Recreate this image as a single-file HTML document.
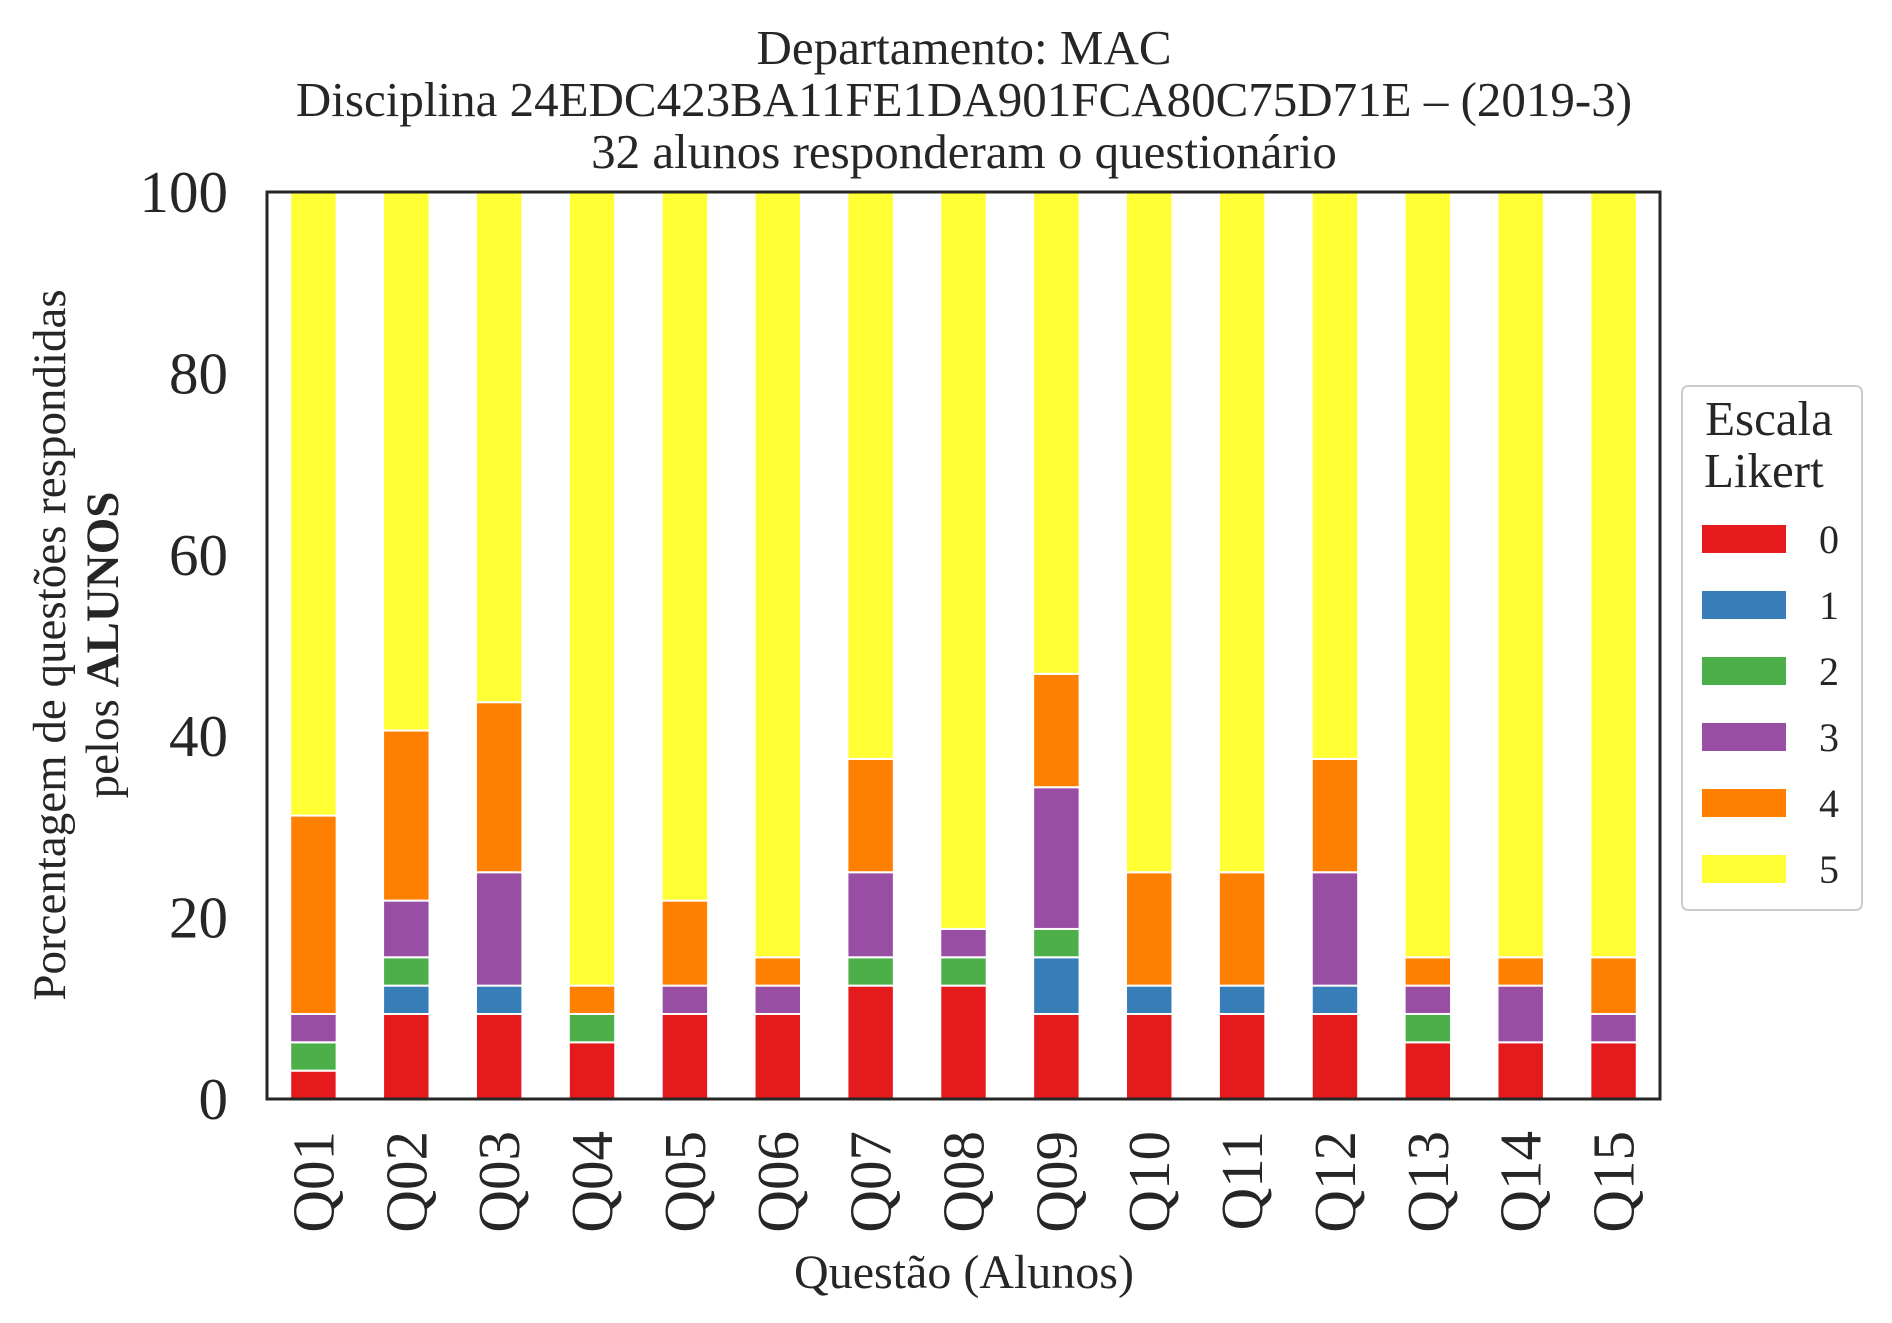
<!DOCTYPE html>
<html><head><meta charset="utf-8"><style>
html,body{margin:0;padding:0;background:#fff;}
svg{display:block;font-family:"Liberation Serif",serif;}
</style></head><body>
<svg id="chart" width="1892" height="1323" viewBox="0 0 1892 1323" xmlns="http://www.w3.org/2000/svg">
<rect width="1892" height="1323" fill="#fff"/>
<g font-size="49" text-anchor="middle" fill="#262626">
<text x="964" y="64">Departamento: MAC</text>
<text x="964" y="116">Disciplina 24EDC423BA11FE1DA901FCA80C75D71E – (2019-3)</text>
<text x="964" y="168">32 alunos responderam o questionário</text>
</g>
<g id="bars"></g>
<g id="yticks"></g>
<g id="xticks"></g>
<rect x="267" y="192" width="1393" height="907" fill="none" stroke="#262626" stroke-width="3"/>
<text transform="translate(65,645) rotate(-90)" font-size="47" text-anchor="middle" fill="#262626">Porcentagem de questões respondidas</text>
<text transform="translate(118,645) rotate(-90)" font-size="47" text-anchor="middle" fill="#262626">pelos <tspan font-weight="bold">ALUNOS</tspan></text>
<text x="964" y="1288" font-size="48" text-anchor="middle" fill="#262626">Questão (Alunos)</text>
<g id="legend">
<rect x="1682" y="386" width="180" height="524" rx="6" fill="#fff" stroke="#ccc" stroke-width="2"/>
<text x="1769" y="435" font-size="49" text-anchor="middle" fill="#262626">Escala</text>
<text x="1704" y="487" font-size="49" fill="#262626">Likert</text>
</g>
</svg>
<script>
const categories=["Q01","Q02","Q03","Q04","Q05","Q06","Q07","Q08","Q09","Q10","Q11","Q12","Q13","Q14","Q15"];
const levels=["0","1","2","3","4","5"];
const colors=["#e41a1c","#377eb8","#4daf4a","#984ea3","#ff7f00","#ffff33"];
// counts per level (out of 32 students)
const s0=[1,3,3,2,3,3,4,4,3,3,3,3,2,2,2];
const s1=[0,1,1,0,0,0,0,0,2,1,1,1,0,0,0];
const s2=[1,1,0,1,0,0,1,1,1,0,0,0,1,0,0];
const s3=[1,2,4,0,1,1,3,1,5,0,0,4,1,2,1];
const s4=[7,6,6,1,3,1,4,0,4,4,4,4,1,1,2];
const s5=[22,19,18,28,25,27,20,26,17,24,24,20,27,27,27];
const series=[s0,s1,s2,s3,s4,s5];
const yTicks=[0,20,40,60,80,100];
const NS="http://www.w3.org/2000/svg";
const L=267,R=1660,T=192,B=1099;
const step=(R-L)/categories.length;
const xs=i=>L+step*(i+0.5);
const ys=v=>B-(B-T)*v/100;
const bw=step*0.5;
const bars=document.getElementById('bars');
categories.forEach((c,i)=>{
  let total=0;series.forEach(s=>total+=s[i]);
  let acc=0;
  series.forEach((s,k)=>{
    const v=s[i]/total*100;
    if(v>0){
      const r=document.createElementNS(NS,'rect');
      
      
      r.setAttribute('x',xs(i)-bw/2);r.setAttribute('width',bw);
      r.setAttribute('y',ys(acc+v));r.setAttribute('height',ys(acc)-ys(acc+v));
      r.setAttribute('fill',colors[k]);r.setAttribute('stroke','#fff');r.setAttribute('stroke-width','2');
      bars.appendChild(r);
    }
    acc+=v;
  });
});
const yt=document.getElementById('yticks');
yTicks.forEach(t=>{
  const e=document.createElementNS(NS,'text');
  
  
  e.setAttribute('x',228);e.setAttribute('y',ys(t)+20);
  e.setAttribute('font-size','59');e.setAttribute('text-anchor','end');e.setAttribute('fill','#262626');
  e.textContent=t;yt.appendChild(e);
});
const xt=document.getElementById('xticks');
categories.forEach((c,i)=>{
  const e=document.createElementNS(NS,'text');
  
  
  e.setAttribute('transform','translate('+(xs(i)+20)+',1131) rotate(-90)');
  e.setAttribute('font-size','59');e.setAttribute('text-anchor','end');e.setAttribute('fill','#262626');
  e.textContent=c;xt.appendChild(e);
});
const lg=document.getElementById('legend');
const rowY=[539,605,671,737,803,869];
levels.forEach((l,k)=>{
  const r=document.createElementNS(NS,'rect');
  
  
  r.setAttribute('x',1702);r.setAttribute('y',rowY[k]-14);r.setAttribute('width',84);r.setAttribute('height',28);
  r.setAttribute('fill',colors[k]);lg.appendChild(r);
  const t=document.createElementNS(NS,'text');
  
  
  t.setAttribute('x',1819);t.setAttribute('y',rowY[k]+14);t.setAttribute('font-size','40');t.setAttribute('fill','#262626');
  t.textContent=l;lg.appendChild(t);
});
</script>
</body></html>
